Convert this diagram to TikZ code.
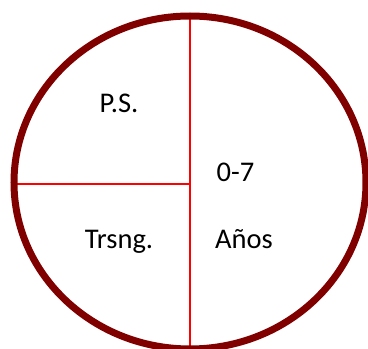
\documentclass[tikz,border=0pt]{standalone}
\usepackage{fontspec}
\setmainfont{Carlito}
\begin{document}
\begin{tikzpicture}[x=1pt,y=1pt,
  rim/.style={draw={rgb,255:red,128;green,0;blue,0},line width=7pt},
  divider/.style={draw=red,line width=1.5pt},
  lbl/.style={anchor=base,inner sep=0pt,font=\fontsize{28.5}{33}\selectfont}]
\useasboundingbox (0,0) rectangle (368,349);
\coordinate (c) at (190,166.5);
\coordinate (top) at (190,333);
\coordinate (bot) at (190,0);
\coordinate (left) at (13.5,165);
\coordinate (mid) at (190,165);
\draw[divider] (top) -- (bot);
\draw[divider] (left) -- (mid);
\draw[rim] (c) ellipse [x radius=176, y radius=166.5];
\node[lbl] (ps) at (119,236) {P.S.};
\node[lbl] (age) at (235.5,167.3) {0-7};
\node[lbl] (tr) at (119,100.3) {Trsng.};
\node[lbl] (an) at (244,100.3) {Años};
\end{tikzpicture}
\end{document}
